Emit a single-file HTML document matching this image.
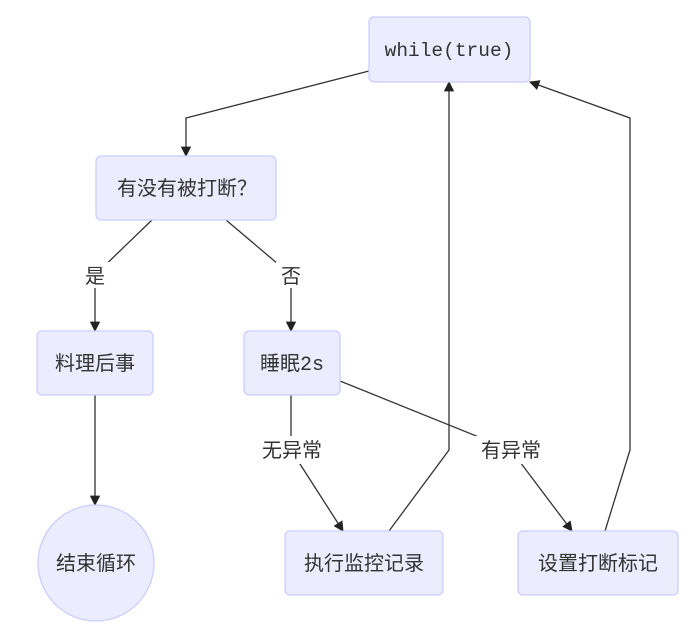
<!DOCTYPE html>
<html><head><meta charset="utf-8"><style>
body{margin:0;background:#fff;width:695px;height:631px;overflow:hidden}
text{font-family:"Liberation Sans","Noto Sans CJK SC",sans-serif;font-size:20px;fill:#333}
</style></head><body>
<svg width="695" height="631" viewBox="0 0 695 631">
<defs><marker id="a" viewBox="0 0 10 10" refX="9" refY="5" markerWidth="8" markerHeight="8" orient="auto"><path d="M0,0L10,5L0,10z" fill="#222"/></marker></defs>
<g fill="none" stroke="#333" stroke-width="1.3">
<path d="M369,71L186,118L186,156" marker-end="url(#a)"/>
<path d="M152,220L95,275L95,331" marker-end="url(#a)"/>
<path d="M226,220L291,275L291,331" marker-end="url(#a)"/>
<path d="M95,395L95,505" marker-end="url(#a)"/>
<path d="M291,395L291,450L343,531" marker-end="url(#a)"/>
<path d="M340,381L511,450L572,531" marker-end="url(#a)"/>
<path d="M389,531L449,450L449,82" marker-end="url(#a)"/>
<path d="M605,531L630,450L630,118L530,82" marker-end="url(#a)"/>
</g>
<g fill="#fff">
<rect x="80" y="262" width="30" height="26"/><rect x="276" y="262" width="30" height="26"/>
<rect x="254" y="436" width="76" height="28"/><rect x="473" y="436" width="76" height="28"/>
</g>
<g fill="#ECECFF" stroke="#CCCCFF" stroke-width="1.3">
<rect x="369" y="17" width="161" height="65" rx="5"/>
<rect x="96" y="156" width="180" height="64" rx="5"/>
<rect x="37" y="331" width="116" height="64" rx="5"/>
<rect x="244" y="331" width="96" height="64" rx="5"/>
<circle cx="96" cy="563" r="58"/>
<rect x="285" y="531" width="158" height="64" rx="5"/>
<rect x="518" y="531" width="160" height="64" rx="5"/>
</g>
<g text-anchor="middle">
<text x="449" y="56" style="font-family:'Liberation Mono',monospace;font-size:19.5px">while(true)</text>
<text x="187" y="195">有没有被打断？</text>
<text x="95" y="370">料理后事</text>
<text x="292" y="370">睡眠<tspan style="font-family:'Liberation Mono',monospace">2s</tspan></text>
<text x="96" y="570">结束循环</text>
<text x="364" y="570">执行监控记录</text>
<text x="598" y="570">设置打断标记</text>
<text x="95" y="283">是</text>
<text x="291" y="283">否</text>
<text x="292" y="457">无异常</text>
<text x="511" y="457">有异常</text>
</g>
</svg>
</body></html>
